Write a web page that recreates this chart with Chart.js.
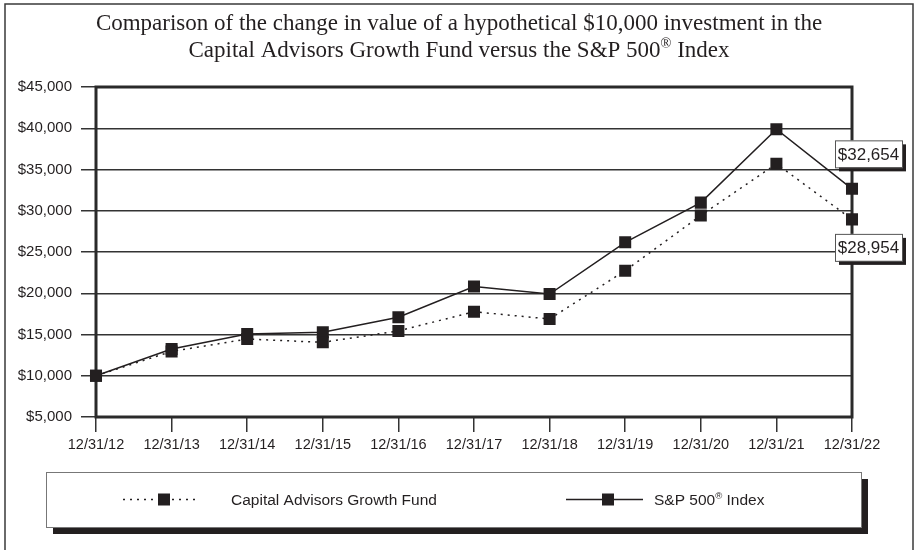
<!DOCTYPE html>
<html lang="en">
<head>
    <meta charset="UTF-8">
    <title>Capital Advisors Growth Fund vs S&amp;P 500</title>
    <script src="https://cdn.jsdelivr.net/npm/chart.js"></script>
    <style>
        html, body { margin: 0; padding: 0; background: #fff; }
        canvas { display: block; }
    </style>
</head>
<body>
    <canvas id="growthChart" width="917" height="550"></canvas>

    <script>
        // data
        const fechas = ['12/31/12', '12/31/13', '12/31/14', '12/31/15', '12/31/16', '12/31/17',
                        '12/31/18', '12/31/19', '12/31/20', '12/31/21', '12/31/22'];
        const fundValues = [10000, 12950, 14450, 14050, 15430, 17760, 16880, 22740, 29430, 35690, 28954];
        const spValues   = [10000, 13240, 15050, 15260, 17085, 20815, 19900, 26170, 30985, 39880, 32654];
        const yTicks = [5000, 10000, 15000, 20000, 25000, 30000, 35000, 40000, 45000];

        const INK = '#231f20';
        const money = v => '$' + Math.round(v).toLocaleString('en-US');

        // draws text where some pieces are superscript (the ® mark)
        function drawRich(ctx, parts, x, y, size, family, align) {
            let total = 0;
            parts.forEach(p => {
                ctx.font = (p.sup ? size * 0.62 : size) + 'px ' + family;
                p.w = ctx.measureText(p.t).width;
                total += p.w;
            });
            let cx = align === 'center' ? x - total / 2 : x;
            ctx.textAlign = 'left';
            ctx.textBaseline = 'alphabetic';
            parts.forEach(p => {
                ctx.font = (p.sup ? size * 0.62 : size) + 'px ' + family;
                ctx.fillText(p.t, cx, p.sup ? y - size * 0.38 : y);
                cx += p.w;
            });
        }

        const framePlugin = {
            id: 'frame',
            beforeDraw(chart) {
                const ctx = chart.ctx;
                ctx.save();
                ctx.fillStyle = '#fff';
                ctx.fillRect(0, 0, chart.width, chart.height);

                // outer border
                ctx.strokeStyle = '#3a3a3a';
                ctx.lineWidth = 1.5;
                ctx.strokeRect(5, 4, 908, 560);

                // title
                ctx.fillStyle = INK;
                ctx.font = '23px "Liberation Serif"';
                ctx.textAlign = 'center';
                ctx.textBaseline = 'alphabetic';
                ctx.fillText('Comparison of the change in value of a hypothetical $10,000 investment in the', 459, 30);
                drawRich(ctx, [{ t: 'Capital Advisors Growth Fund versus the S&P 500' }, { t: '®', sup: true }, { t: ' Index' }],
                    459, 57, 23, '"Liberation Serif"', 'center');

                // legend box with shadow
                const lx = 46, ly = 472, lw = 815, lh = 55;
                ctx.fillStyle = INK;
                ctx.fillRect(lx + 7, ly + 7, lw, lh);
                ctx.fillStyle = '#fff';
                ctx.fillRect(lx, ly, lw, lh);
                ctx.strokeStyle = '#777';
                ctx.lineWidth = 1;
                ctx.strokeRect(lx + 0.5, ly + 0.5, lw, lh);

                const midY = ly + lh / 2;
                ctx.strokeStyle = INK;
                ctx.lineWidth = 1.5;
                // fund: dotted
                ctx.setLineDash([2, 5]);
                ctx.beginPath(); ctx.moveTo(123, midY); ctx.lineTo(199, midY); ctx.stroke();
                ctx.setLineDash([]);
                ctx.fillStyle = INK;
                ctx.fillRect(158, midY - 6, 12, 12);
                // s&p: solid
                ctx.beginPath(); ctx.moveTo(566, midY); ctx.lineTo(643, midY); ctx.stroke();
                ctx.fillRect(602, midY - 6, 12, 12);

                ctx.fillStyle = INK;
                ctx.font = '15.5px "Liberation Sans"';
                ctx.textAlign = 'left';
                ctx.fillText('Capital Advisors Growth Fund', 231, midY + 5);
                drawRich(ctx, [{ t: 'S&P 500' }, { t: '®', sup: true }, { t: ' Index' }],
                    654, midY + 5, 15.5, '"Liberation Sans"', 'left');
                ctx.restore();
            },
            beforeDatasetsDraw(chart) {
                const { ctx, chartArea: a } = chart;
                ctx.save();
                ctx.strokeStyle = '#2a2a2a';
                ctx.lineWidth = 3;
                ctx.strokeRect(a.left, a.top, a.right - a.left, a.bottom - a.top);
                ctx.restore();
            },
            afterDatasetsDraw(chart) {
                const { ctx, chartArea: a, scales } = chart;
                const y = scales.y;
                const last = fechas.length - 1;
                const boxes = [
                    { v: spValues[last], dy: -35 },
                    { v: fundValues[last], dy: 28 }
                ];
                ctx.save();
                boxes.forEach(b => {
                    const cy = y.getPixelForValue(b.v) + b.dy;
                    const bx = a.right - 17, bw = 67, bh = 27, by = cy - bh / 2;
                    ctx.fillStyle = INK;
                    ctx.fillRect(bx + 4, by + 4, bw, bh);
                    ctx.fillStyle = '#fff';
                    ctx.fillRect(bx, by, bw, bh);
                    ctx.strokeStyle = '#555';
                    ctx.lineWidth = 1;
                    ctx.strokeRect(bx + 0.5, by + 0.5, bw, bh);
                    ctx.fillStyle = INK;
                    ctx.font = '17px "Liberation Sans"';
                    ctx.textAlign = 'center';
                    ctx.textBaseline = 'middle';
                    ctx.fillText(money(b.v), bx + bw / 2, cy + 1);
                });
                ctx.restore();
            }
        };

        new Chart(document.getElementById('growthChart'), {
            type: 'line',
            data: {
                labels: fechas,
                datasets: [
                    {
                        label: 'Capital Advisors Growth Fund',
                        data: fundValues,
                        borderColor: INK,
                        borderWidth: 1.5,
                        borderDash: [2, 5],
                        pointStyle: 'rect',
                        pointRadius: 8.5,
                        pointBackgroundColor: INK,
                        pointBorderWidth: 0,
                        tension: 0
                    },
                    {
                        label: 'S&P 500® Index',
                        data: spValues,
                        borderColor: INK,
                        borderWidth: 1.5,
                        pointStyle: 'rect',
                        pointRadius: 8.5,
                        pointBackgroundColor: INK,
                        pointBorderWidth: 0,
                        tension: 0
                    }
                ]
            },
            options: {
                responsive: false,
                animation: false,
                devicePixelRatio: 1,
                layout: { padding: { left: 0, right: 65, top: 87, bottom: 93 } },
                plugins: {
                    legend: { display: false },
                    title: { display: false },
                    tooltip: { enabled: false }
                },
                scales: {
                    x: {
                        offset: false,
                        afterFit(scale) { scale.height = 40; },
                        grid: { drawOnChartArea: false, tickLength: 15, color: '#333', lineWidth: 1.5 },
                        border: { display: false },
                        ticks: { color: INK, font: { family: 'Liberation Sans', size: 14.5 }, padding: 4, maxRotation: 0, autoSkip: false }
                    },
                    y: {
                        min: 5000,
                        max: 45000,
                        afterFit(scale) { scale.width = 96; },
                        afterBuildTicks(scale) { scale.ticks = yTicks.map(v => ({ value: v })); },
                        grid: { tickLength: 15, color: '#333', lineWidth: 1.5 },
                        border: { display: false },
                        ticks: { color: INK, font: { family: 'Liberation Sans', size: 15 }, padding: 9, callback: v => money(v) }
                    }
                }
            },
            plugins: [framePlugin]
        });
    </script>
</body>
</html>
